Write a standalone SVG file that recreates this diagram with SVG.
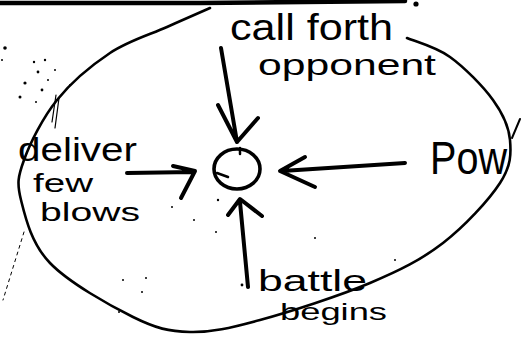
<svg xmlns="http://www.w3.org/2000/svg" width="522" height="346" viewBox="0 0 522 346">
<style>
.ink{fill:none;stroke:#000;stroke-linecap:round;stroke-linejoin:round}
.loop{stroke-width:2.6}
.arrow{stroke-width:4}
.t{font-family:"Liberation Sans","DejaVu Sans",sans-serif;fill:#000}
.dot{fill:#000}
</style>
<rect width="522" height="346" fill="#fff"/>
<g id="page-edge">
<path class="ink" d="M0,3 L200,3 L405,1" stroke-width="4.5"/>
<circle class="dot" cx="416" cy="4" r="2.6"/>
</g>
<g id="loop">
<path class="ink loop" d="M407,38 C414.2,41.2 435.7,46.7 450,57 C464.3,67.3 483,86.2 493,100 C503,113.8 508.8,126.2 510,140 C511.2,153.8 511.2,165.8 500,183 C488.8,200.2 464.7,226.3 443,243 C421.3,259.7 400.5,270.2 370,283 C339.5,295.8 290,311.8 260,320 C230,328.2 211.2,332.5 190,332 C168.8,331.5 156.3,328.5 133,317 C109.7,305.5 68.7,282.5 50,263 C31.3,243.5 25.3,217.2 21,200 C16.7,182.8 18,176.7 24,160 C30,143.3 42.7,117.8 57,100 C71.3,82.2 91.7,65.2 110,53 C128.3,40.8 150.3,34.5 167,27 C183.7,19.5 202.8,11.2 210,8"/>
<path class="ink" d="M56,95 L52,122 M59,98 L55,128" stroke-width="1.2"/>
</g>
<g id="center">
<ellipse class="ink" cx="237" cy="169" rx="23" ry="20" stroke-width="3.6"/>
<path class="ink" d="M217,173 L228,177 M240,148 L240,154" stroke-width="2.5"/>
</g>
<g id="connectors">
<path class="ink arrow" d="M221,48 L237,142 M218,105 L237,142 L258,118"/>
<path class="ink arrow" d="M127,173 L193,172 M173,166 L195,171 L181,198"/>
<path class="ink arrow" d="M405,163 L282,171 M305,157 L280,171 L315,187"/>
<path class="ink arrow" d="M248,287 L240,202 M228,215 L240,199 L262,216"/>
</g>
<g id="node-top">
<text class="t" x="230" y="40" font-size="36" textLength="163" lengthAdjust="spacingAndGlyphs">call forth</text>
<text class="t" x="258" y="75" font-size="30" textLength="178" lengthAdjust="spacingAndGlyphs">opponent</text>
</g>
<g id="node-left">
<text class="t" x="18" y="161" font-size="34" textLength="119" lengthAdjust="spacingAndGlyphs">deliver</text>
<text class="t" x="33" y="192" font-size="26" textLength="60" lengthAdjust="spacingAndGlyphs">few</text>
<text class="t" x="40" y="221" font-size="26" textLength="100" lengthAdjust="spacingAndGlyphs">blows</text>
</g>
<g id="node-right">
<text class="t" x="430" y="174" font-size="46" textLength="77" lengthAdjust="spacingAndGlyphs">Pow</text>
<path class="ink" d="M512,138 L520,119" stroke-width="2"/>
</g>
<g id="node-bottom">
<text class="t" x="258" y="291" font-size="30" textLength="109" lengthAdjust="spacingAndGlyphs">battle</text>
<text class="t" x="280" y="320" font-size="24" textLength="107" lengthAdjust="spacingAndGlyphs">begins</text>
</g>
<g id="specks">
<circle class="dot" cx="5" cy="48" r="1.8"/>
<circle class="dot" cx="2" cy="60" r="1"/>
<circle class="dot" cx="34" cy="62" r="1.2"/>
<circle class="dot" cx="45" cy="60" r="1.2"/>
<circle class="dot" cx="38" cy="72" r="1.4"/>
<circle class="dot" cx="55" cy="70" r="1"/>
<circle class="dot" cx="25" cy="83" r="1.6"/>
<circle class="dot" cx="42" cy="90" r="1.4"/>
<circle class="dot" cx="20" cy="97" r="1.5"/>
<circle class="dot" cx="36" cy="102" r="1"/>
<circle class="dot" cx="48" cy="80" r="1"/>
<circle class="dot" cx="70" cy="85" r="1"/>
<circle class="dot" cx="172" cy="207" r="1"/>
<circle class="dot" cx="194" cy="220" r="1"/>
<circle class="dot" cx="218" cy="200" r="1.2"/>
<circle class="dot" cx="216" cy="232" r="1"/>
<circle class="dot" cx="146" cy="278" r="1"/>
<circle class="dot" cx="123" cy="280" r="1"/>
<circle class="dot" cx="142" cy="292" r="1"/>
<circle class="dot" cx="119" cy="312" r="1"/>
<circle class="dot" cx="242" cy="285" r="1.4"/>
<circle class="dot" cx="315" cy="238" r="1"/>
<circle class="dot" cx="395" cy="260" r="1"/>
<circle class="dot" cx="255" cy="3" r="1"/>
<path class="ink" d="M24,232 L3,300" stroke="#555" stroke-width="1" stroke-dasharray="3 4"/>
</g>
</svg>
